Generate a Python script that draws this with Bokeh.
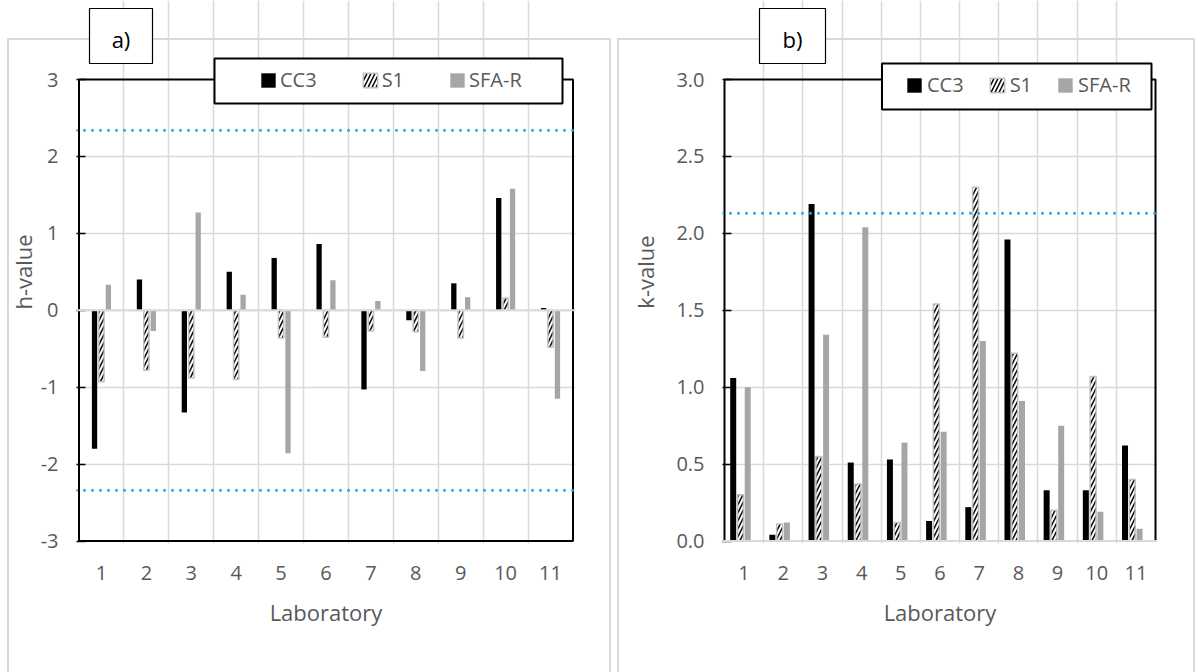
from bokeh.plotting import figure
from bokeh.layouts import row
from bokeh.models import (ColumnDataSource, Range1d, FixedTicker, Span, BoxAnnotation,
                          Label, Legend, LegendItem, PrintfTickFormatter)
from bokeh.transform import dodge
from bokeh.embed import file_html
from bokeh.resources import INLINE

# Laboratories on the horizontal axis
labs = ["1", "2", "3", "4", "5", "6", "7", "8", "9", "10", "11"]
series = ["CC3", "S1", "SFA-R"]

# Mandel's h statistic per laboratory
h_cc3 = [-1.80, 0.40, -1.33, 0.50, 0.68, 0.86, -1.03, -0.13, 0.35, 1.46, 0.03]
h_s1 = [-0.93, -0.78, -0.88, -0.90, -0.36, -0.35, -0.27, -0.28, -0.36, 0.16, -0.48]
h_sfar = [0.33, -0.27, 1.27, 0.20, -1.86, 0.39, 0.12, -0.79, 0.17, 1.58, -1.15]
h_crit = 2.34
h_ticks = [-3, -2, -1, 0, 1, 2, 3]

# Mandel's k statistic per laboratory
k_cc3 = [1.06, 0.04, 2.19, 0.51, 0.53, 0.13, 0.22, 1.96, 0.33, 0.33, 0.62]
k_s1 = [0.30, 0.11, 0.55, 0.37, 0.12, 1.54, 2.30, 1.22, 0.20, 1.07, 0.40]
k_sfar = [1.00, 0.12, 1.34, 2.04, 0.64, 0.71, 1.30, 0.91, 0.75, 0.19, 0.08]
k_crit = 2.13
k_ticks = [0.0, 0.5, 1.0, 1.5, 2.0, 2.5, 3.0]

FONT = "Open Sans"
TXT = "#595959"
GRID = "#d9d9d9"
DOT = "#30a2dc"
PANEL = "#d9d9d9"
H = 672


def cbox(l, r, t, b, line="black", lw=2.0):
    """White box with an outline, positioned in canvas pixels."""
    return BoxAnnotation(left=l, right=r, top=t, bottom=b,
                         left_units="canvas", right_units="canvas",
                         top_units="canvas", bottom_units="canvas",
                         fill_color="white", fill_alpha=1.0,
                         line_color=line, line_alpha=1.0, line_width=lw,
                         level="annotation")


def panel_css(l, r, t):
    """Light outline of the chart panel, painted behind the transparent canvas."""
    g = f"linear-gradient({PANEL},{PANEL})"
    return {
        "background-image": f"{g},{g},{g}",
        "background-position": f"{l}px {t}px,{l}px {t}px,{r}px {t}px",
        "background-size": f"{r - l + 2}px 2px,2px {H}px,2px {H}px",
        "background-repeat": "no-repeat",
    }


def build(width, area, ticks, fmt, ylabel, values, offsets, bar_w,
          crit_lines, y_std, panel, tag, tag_box, leg_box, leg_loc, leg_spacing,
          leg_standoff):
    y_lo, y_hi = ticks[0], ticks[-1]
    xl, xr, yt, yb = area          # canvas pixels of the plotting rectangle
    pad = 2
    mb_left = int(xl - pad)
    mb_right = int(width - xr - pad)
    mb_bottom = int(H - yb - pad)
    frame_r = width - mb_right
    frame_b = H - mb_bottom
    px_x = (xr - xl) / 11.0
    px_y = (yb - yt) / (y_hi - y_lo)
    x_range = Range1d(0.5 - (xl - mb_left) / px_x, 11.5 + (frame_r - xr) / px_x)
    y_range = Range1d(y_lo - (frame_b - yb) / px_y, y_hi + yt / px_y)

    p = figure(width=width, height=H, output_backend="svg", toolbar_location=None,
               x_range=x_range, y_range=y_range,
               min_border_left=mb_left, min_border_right=mb_right,
               min_border_top=0, min_border_bottom=mb_bottom,
               background_fill_alpha=0.0, border_fill_alpha=0.0,
               styles=panel_css(*panel))
    p.outline_line_color = None

    src = ColumnDataSource(dict(x=list(range(1, len(labs) + 1)),
                                cc3=values[0], s1=values[1], sfar=values[2]))

    r1 = p.vbar(x=dodge("x", offsets[0]), top="cc3", bottom=0, width=bar_w, source=src,
                fill_color="black", line_color=None)
    r2 = p.vbar(x=dodge("x", offsets[1]), top="s1", bottom=0, width=bar_w, source=src,
                fill_color="white", line_color="#c0c0c0", line_width=1.5,
                hatch_pattern="/", hatch_color="black", hatch_scale=8, hatch_weight=1.5)
    r3 = p.vbar(x=dodge("x", offsets[2]), top="sfar", bottom=0, width=bar_w, source=src,
                fill_color="#a6a6a6", line_color=None)

    # plot-area frame around the value range and all laboratories
    p.quad(left=[0.5], right=[len(labs) + 0.5], bottom=[y_lo], top=[y_hi],
           fill_color=None, line_color="black", line_width=2)

    # axes
    xa = p.xaxis[0]
    xa.ticker = FixedTicker(ticks=list(range(1, len(labs) + 1)))
    xa.major_label_overrides = {i + 1: s for i, s in enumerate(labs)}
    xa.axis_label = "Laboratory"
    xa.axis_line_color = None
    xa.major_tick_line_color = None
    xa.minor_tick_line_color = None
    xa.major_label_standoff = 16
    xa.axis_label_standoff = 14

    ya = p.yaxis[0]
    ya.ticker = FixedTicker(ticks=ticks)
    ya.formatter = PrintfTickFormatter(format=fmt)
    ya.axis_label = ylabel
    ya.axis_line_color = None
    ya.major_tick_in = 9
    ya.major_tick_out = 0
    ya.major_tick_line_color = "black"
    ya.major_tick_line_width = 1.5
    ya.minor_tick_line_color = None
    ya.major_label_standoff = 18
    ya.axis_label_standoff = y_std

    for ax in (xa, ya):
        ax.major_label_text_font = FONT
        ax.major_label_text_font_size = "20px"
        ax.major_label_text_color = TXT
        ax.axis_label_text_font = FONT
        ax.axis_label_text_font_size = "22px"
        ax.axis_label_text_font_style = "normal"
        ax.axis_label_text_color = TXT

    p.xgrid.ticker = FixedTicker(ticks=[i + 0.5 for i in range(1, len(labs))])
    p.xgrid.bounds = (y_lo, y_hi)
    p.xgrid.grid_line_color = GRID
    p.xgrid.grid_line_width = 1.5
    p.ygrid.ticker = FixedTicker(ticks=ticks[1:-1])
    p.ygrid.grid_line_color = GRID
    p.ygrid.grid_line_width = 1.5

    # category axis line at zero
    p.add_layout(Span(location=0, dimension="width", line_color=GRID, line_width=2))

    # critical values
    for c in crit_lines:
        p.add_layout(Span(location=c, dimension="width", line_color=DOT, line_width=3,
                          line_dash="0 8", line_cap="round"))

    # panel tag and legend box
    p.add_layout(cbox(*tag_box, lw=1.2))
    p.add_layout(Label(x=(tag_box[0] + tag_box[1]) / 2, y=(tag_box[2] + tag_box[3]) / 2 + 3,
                       x_units="canvas", y_units="canvas", text=tag,
                       text_font=FONT, text_font_size="22px", text_color="black",
                       text_align="center", text_baseline="middle"))
    p.add_layout(cbox(*leg_box, lw=2))

    legend = Legend(items=[LegendItem(label=series[0], renderers=[r1]),
                           LegendItem(label=series[1], renderers=[r2]),
                           LegendItem(label=series[2], renderers=[r3])],
                    orientation="horizontal", location=leg_loc,
                    padding=10, margin=0, spacing=leg_spacing, label_standoff=leg_standoff,
                    glyph_width=18, glyph_height=18,
                    border_line_color=None, background_fill_alpha=0.0,
                    label_text_font=FONT, label_text_font_size="20px",
                    label_text_color=TXT)
    p.add_layout(legend)
    return p


pa = build(611, (78.5, 572.5, 79, 540.5), h_ticks, "%d", "h-value",
           [h_cc3, h_s1, h_sfar], [-0.154, 0.0, 0.154], 0.118, [h_crit, -h_crit], 0,
           (7, 609, 38), "a)", (89, 152, 8, 63), (214, 562, 58, 103),
           (183, 450), 44, 3)

pb = build(584, (113, 544, 79, 540.5), k_ticks, "%.1f", "k-value",
           [k_cc3, k_s1, k_sfar], [-0.278, -0.093, 0.093], 0.153, [k_crit], 13,
           (6, 582, 38), "b)", (148, 214, 8, 63), (270.5, 540, 63, 109),
           (183, 445), 24, 4)

layout = row(pa, pb)
open("out.html", "w").write(file_html(layout, INLINE))
